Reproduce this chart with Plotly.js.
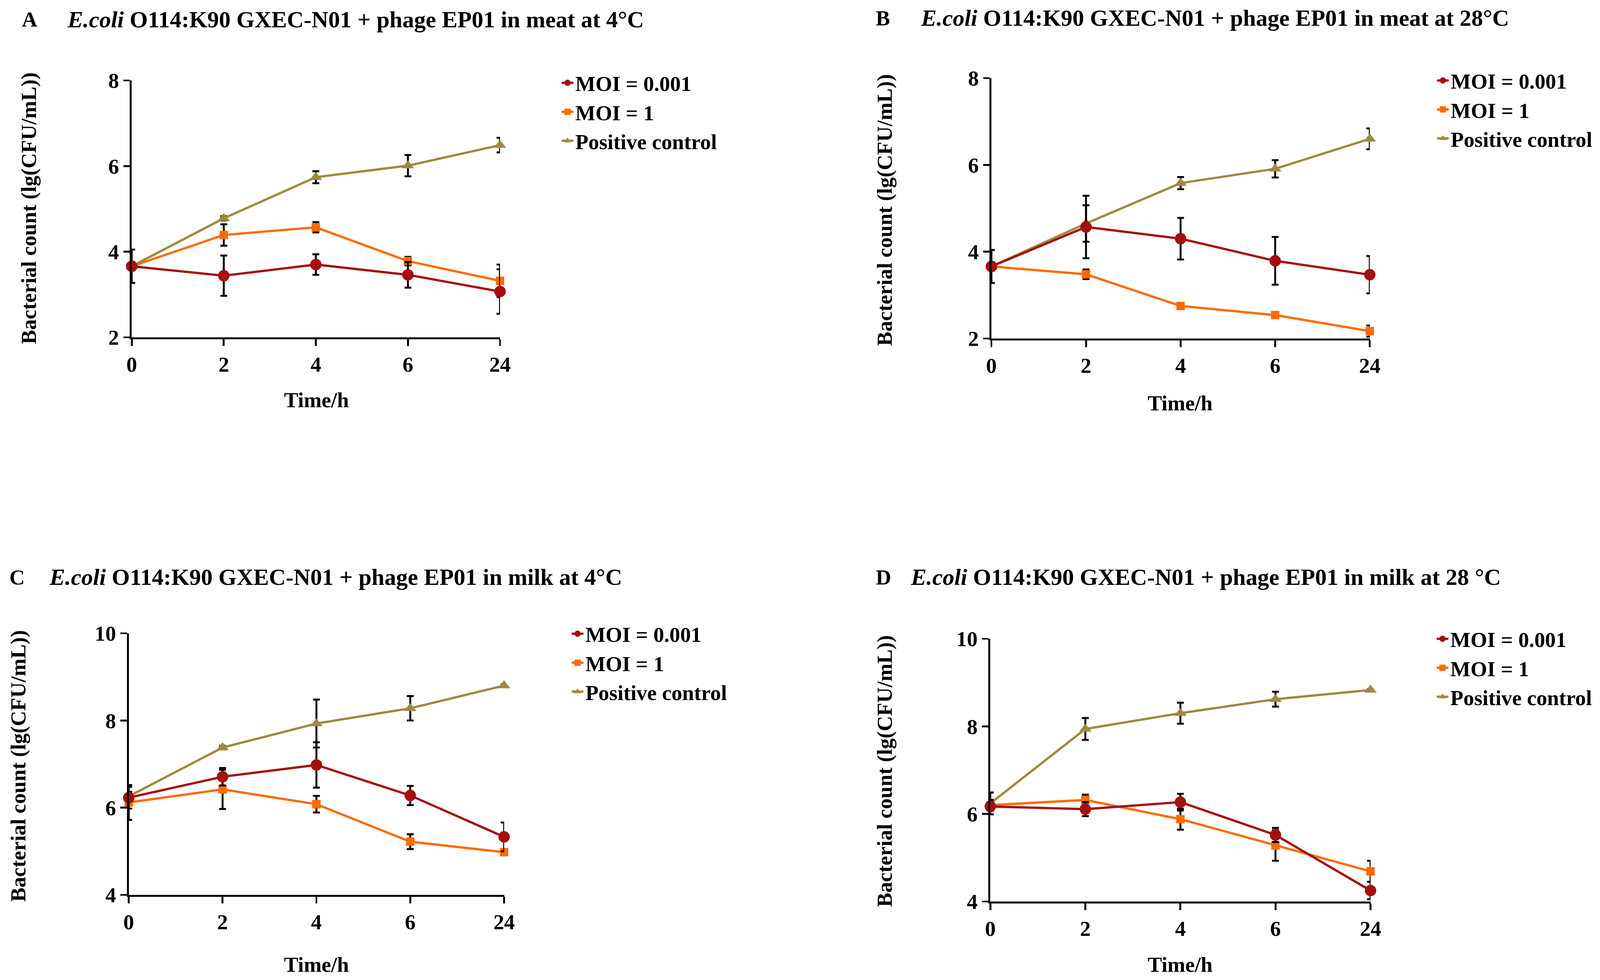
<!DOCTYPE html>
<html>
<head>
<meta charset="utf-8">
<script src="https://cdn.plot.ly/plotly-3.0.1.min.js"></script>
<style>html,body{margin:0;padding:0;background:#fff;overflow:hidden;}#chart{width:100vw;height:100vh;}</style>
</head>
<body>
<div id="chart"></div>
<script>
// ---------- data ----------
const timeLabels = ['0', '2', '4', '6', '24'];
const seriesNames = ['MOI = 0.001', 'MOI = 1', 'Positive control'];

// A: meat at 4°C
const meat4_moi001 = [3.66, 3.44, 3.70, 3.46, 3.07];
const meat4_moi001_err = [0.10, 0.47, 0.24, 0.30, 0.52];
const meat4_moi1 = [3.66, 4.39, 4.57, 3.78, 3.32];
const meat4_moi1_err = [0.08, 0.25, 0.12, 0.10, 0.38];
const meat4_pos = [3.66, 4.78, 5.74, 6.01, 6.49];
const meat4_pos_err = [0.39, 0.05, 0.14, 0.25, 0.17];

// B: meat at 28°C
const meat28_moi001 = [3.66, 4.57, 4.30, 3.79, 3.47];
const meat28_moi001_err = [0.10, 0.72, 0.48, 0.55, 0.43];
const meat28_moi1 = [3.66, 3.48, 2.75, 2.54, 2.17];
const meat28_moi1_err = [0.08, 0.11, 0.04, 0.04, 0.13];
const meat28_pos = [3.66, 4.65, 5.58, 5.91, 6.60];
const meat28_pos_err = [0.38, 0.42, 0.14, 0.20, 0.24];

// C: milk at 4°C
const milk4_moi001 = [6.23, 6.71, 6.98, 6.28, 5.33];
const milk4_moi001_err = [0.25, 0.20, 0.52, 0.22, 0.33];
const milk4_moi1 = [6.12, 6.42, 6.08, 5.22, 4.98];
const milk4_moi1_err = [0.40, 0.45, 0.19, 0.17, 0.04];
const milk4_pos = [6.26, 7.38, 7.93, 8.28, 8.80];
const milk4_pos_err = [0.10, 0.04, 0.55, 0.28, 0.03];

// D: milk at 28°C
const milk28_moi001 = [6.17, 6.11, 6.27, 5.52, 4.25];
const milk28_moi001_err = [0.10, 0.16, 0.19, 0.16, 0.20];
const milk28_moi1 = [6.20, 6.32, 5.88, 5.28, 4.69];
const milk28_moi1_err = [0.12, 0.12, 0.24, 0.35, 0.24];
const milk28_pos = [6.24, 7.94, 8.30, 8.62, 8.83];
const milk28_pos_err = [0.25, 0.25, 0.24, 0.17, 0.02];

const panelLetters = ['A', 'B', 'C', 'D'];
const panelTitles = [
  '<i>E.coli</i> O114:K90 GXEC-N01 + phage EP01 in meat at 4°C',
  '<i>E.coli</i> O114:K90 GXEC-N01 + phage EP01 in meat at 28°C',
  '<i>E.coli</i> O114:K90 GXEC-N01 + phage EP01 in milk at 4°C',
  '<i>E.coli</i> O114:K90 GXEC-N01 + phage EP01 in milk at 28 °C'
];
const yTitle = 'Bacterial count (lg(CFU/mL))';
const xTitle = 'Time/h';
const yRanges = [[2, 8], [2, 8], [4, 10], [4, 10]];

// ---------- layout helpers ----------
const W = 4288, H = 2510;
const VW = window.innerWidth || W, VH = window.innerHeight || H;
const S = (VW / W + VH / H) / 2;
const z = v => v * S;
const px = v => v / W;
const py = v => 1 - v / H;
const FONT = 'Liberation Serif, Times New Roman, serif';
const colors = ['#A50F0F', '#FF6A00', '#9C8B3E'];
const symbols = ['circle', 'square', 'triangle-up'];
const msizes = [30, 22, 28];

const panelData = [
  [[meat4_moi001, meat4_moi001_err], [meat4_moi1, meat4_moi1_err], [meat4_pos, meat4_pos_err]],
  [[meat28_moi001, meat28_moi001_err], [meat28_moi1, meat28_moi1_err], [meat28_pos, meat28_pos_err]],
  [[milk4_moi001, milk4_moi001_err], [milk4_moi1, milk4_moi1_err], [milk4_pos, milk4_pos_err]],
  [[milk28_moi001, milk28_moi001_err], [milk28_moi1, milk28_moi1_err], [milk28_pos, milk28_pos_err]]
];

// geometry (pixels in the 4288x2510 frame)
const geo = [
  {x: [353, 1340], y: [206, 864], leg: [1500, 170], letter: [80, 50], title: [178, 50], yt: [77, 534], xt: [848, 1024]},
  {x: [2657, 3671], y: [200, 867], leg: [3846, 164], letter: [2366, 46], title: [2465, 46], yt: [2370, 538], xt: [3163, 1033]},
  {x: [345, 1351], y: [1622, 2292], leg: [1527, 1581], letter: [46, 1478], title: [130, 1478], yt: [48, 1962], xt: [848, 2470]},
  {x: [2654, 3673], y: [1636, 2309], leg: [3845, 1594], letter: [2368, 1478], title: [2438, 1478], yt: [2370, 1975], xt: [3163, 2470]}
];

const traces = [];
const layout = {
  width: VW, height: VH,
  margin: {l: 0, r: 0, t: 0, b: 0},
  paper_bgcolor: '#fff', plot_bgcolor: '#fff',
  font: {family: FONT, size: z(56), color: '#000', weight: 'bold'},
  showlegend: true,
  annotations: []
};

geo.forEach((g, p) => {
  const n = p === 0 ? '' : String(p + 1);
  const xa = 'x' + n, ya = 'y' + n;
  const legName = 'legend' + n;
  // draw positive control first so MOI lines sit on top
  for (let s = 2; s >= 0; s--) {
    const [vals, errs] = panelData[p][s];
    traces.push({
      type: 'scatter', mode: 'lines+markers',
      x: timeLabels, y: vals,
      xaxis: xa, yaxis: ya,
      name: seriesNames[s],
      legend: legName,
      legendrank: s + 1,
      cliponaxis: false,
      line: {color: colors[s], width: z(6)},
      marker: {color: colors[s], symbol: symbols[s], size: z(msizes[s])},
      error_y: {type: 'data', array: errs, visible: true, color: '#000', thickness: z(5), width: z(9)}
    });
  }
  layout['xaxis' + n] = {
    domain: [px(g.x[0]), px(g.x[1])], anchor: ya,
    type: 'category', range: [0, 4],
    showline: true, linecolor: '#000', linewidth: z(5),
    ticks: 'outside', ticklen: z(18), tickwidth: z(5), tickcolor: '#000',
    showgrid: false, zeroline: false,
    tickfont: {family: FONT, size: z(56), weight: 'bold'},
    ticklabelstandoff: z(3),
    fixedrange: true
  };
  layout['yaxis' + n] = {
    domain: [py(g.y[1]), py(g.y[0])], anchor: xa,
    range: yRanges[p], tick0: yRanges[p][0], dtick: 2,
    showline: true, linecolor: '#000', linewidth: z(5),
    ticks: 'outside', ticklen: z(17), tickwidth: z(5), tickcolor: '#000',
    showgrid: false, zeroline: false,
    tickfont: {family: FONT, size: z(56), weight: 'bold'},
    ticklabelstandoff: z(2),
    fixedrange: true
  };
  layout[legName] = {
    x: px(g.leg[0]), y: py(g.leg[1]), xanchor: 'left', yanchor: 'top',
    bgcolor: 'rgba(0,0,0,0)', borderwidth: 0,
    font: {family: FONT, size: z(56), color: '#000', weight: 'bold'},
    traceorder: 'normal'
  };
  layout.annotations.push(
    {text: panelLetters[p], x: px(g.letter[0]), y: py(g.letter[1]), xref: 'paper', yref: 'paper',
     xanchor: 'center', yanchor: 'middle', showarrow: false,
     font: {family: FONT, size: z(56), weight: 'bold'}},
    {text: panelTitles[p], x: px(g.title[0]), y: py(g.title[1]), xref: 'paper', yref: 'paper',
     xanchor: 'left', yanchor: 'middle', showarrow: false,
     font: {family: FONT, size: z(61), weight: 'bold'}},
    {text: yTitle, x: px(g.yt[0]), y: py(g.yt[1]), xref: 'paper', yref: 'paper',
     xanchor: 'center', yanchor: 'middle', textangle: -90, showarrow: false,
     font: {family: FONT, size: z(56), weight: 'bold'}},
    {text: xTitle, x: px(g.xt[0]), y: py(g.xt[1]), xref: 'paper', yref: 'paper',
     xanchor: 'center', yanchor: 'middle', showarrow: false,
     font: {family: FONT, size: z(56), weight: 'bold'}}
  );
});

Plotly.newPlot('chart', traces, layout, {staticPlot: true, displayModeBar: false});
</script>
</body>
</html>
